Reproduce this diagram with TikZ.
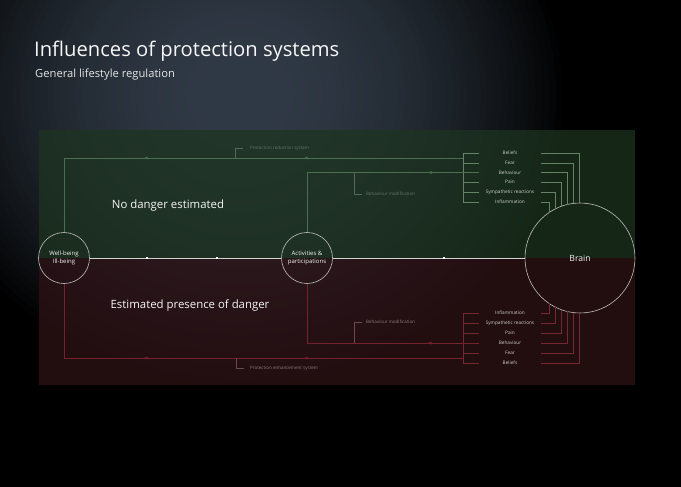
\documentclass[tikz,border=0pt]{standalone}
\usepackage{fontspec}
\setmainfont{Open Sans}
\definecolor{glowc}{RGB}{48,58,70}
\definecolor{gbase}{RGB}{29,52,32}
\definecolor{rbase}{RGB}{46,18,21}
\definecolor{gline}{RGB}{72,112,78}
\definecolor{rline}{RGB}{118,34,46}
\definecolor{gtick}{RGB}{100,130,102}
\definecolor{rtick}{RGB}{118,40,50}
\definecolor{glab}{RGB}{85,105,88}
\definecolor{rlab}{RGB}{110,70,76}
\definecolor{circc}{RGB}{190,190,185}
\definecolor{labg}{RGB}{100,118,103}
\definecolor{labr}{RGB}{140,124,126}
\definecolor{itemc}{RGB}{205,208,205}
\begin{document}
\begin{tikzpicture}[x=1pt,y=-1pt,
  circ/.style={circle,draw=circc,line width=0.6pt,inner sep=0pt,text=white!90!gray,align=center},
  item/.style={text=itemc,font=\fontsize{4.7}{5}\selectfont,inner sep=0pt},
  lab/.style={font=\fontsize{4.5}{5}\selectfont,inner sep=0pt,anchor=west},
  gl/.style={draw=gline,line width=0.6pt},
  rl/.style={draw=rline,line width=0.6pt},
  gt/.style={draw=gtick,line width=0.5pt},
  rt/.style={draw=rtick,line width=0.5pt},
  glt/.style={draw=glab,line width=0.5pt},
  rlt/.style={draw=rlab,line width=0.5pt},
  ltri/.pic={\fill (-2,0) -- (1.6,-1.5) -- (1.6,1.5) -- cycle;}]
\useasboundingbox (0,0) rectangle (681,487);
\fill[black] (0,0) rectangle (681,487);
\begin{scope}
\clip (0,0) rectangle (681,487);
\foreach \i in {1,...,48}{
  \pgfmathsetmacro\r{1-(\i-1)/48}
  \pgfmathtruncatemacro\p{100*(1-\r*\r)}
  \fill[glowc!\p!black] (240,95) ellipse [x radius={330*\r}, y radius={295*\r}];
}
\end{scope}
% title
\node[anchor=base west,inner sep=0pt,text=white!94!gray,font=\fontsize{20.2}{22}\selectfont] (title) at (34,57) {Influences of protection systems};
\node[anchor=base west,inner sep=0pt,text=white!80!gray,font=\fontsize{11.2}{12}\selectfont] (sub) at (35,78) {General lifestyle regulation};
% panels
\fill[gbase,opacity=0.75] (39,130) rectangle (635,258);
\fill[rbase,opacity=0.75] (39,258) rectangle (635,385);
% big texts
\node[text=white!92!gray,font=\fontsize{11.4}{13}\selectfont,inner sep=0pt] (nodanger) at (168,206) {No danger estimated};
\node[text=white!92!gray,font=\fontsize{11.4}{13}\selectfont,inner sep=0pt] (danger) at (190,306) {Estimated presence of danger};
% circles
\node[circ,minimum size=51pt,font=\fontsize{6}{7.6}\selectfont] (wb) at (64,258) {Well-being\\Ill-being};
\node[circ,minimum size=51pt,font=\fontsize{6}{7.6}\selectfont] (act) at (307,258) {Activities \&\\participations};
\node[circ,minimum size=110pt,font=\fontsize{8.6}{10}\selectfont] (brain) at (580,258) {Brain};
% middle line
\draw[white!65!gray,line width=0.8pt] (wb.east) -- (act.west);
\draw[white!65!gray,line width=0.8pt] (act.east) -- (brain.west);
\foreach \x in {147,217,444} \fill[white] (\x-1,257) rectangle (\x+1,259);
% top list
\foreach \n/\t/\y/\vx in {1/Beliefs/153/579,2/Fear/163/573,3/Behaviour/172.5/567,4/Pain/182/561,5/Sympathetic reactions/192/555,6/Inflammation/202/549}{
  \node[item] (t\n) at (510,\y) {\t};
  \draw[gt] (463,\y) -- (479,\y);
  \draw[gt] (541,\y) -- (\vx,\y) -- (\vx,{258-sqrt(55*55-(\vx-580)*(\vx-580))});
}
\draw[gt] (463,153) -- (463,202);
% bottom list
\foreach \n/\t/\y/\vx in {1/Beliefs/363/579,2/Fear/353/573,3/Behaviour/343/567,4/Pain/333/561,5/Sympathetic reactions/323/555,6/Inflammation/313/549}{
  \node[item] (b\n) at (510,\y) {\t};
  \draw[rt] (463,\y) -- (479,\y);
  \draw[rt] (541,\y) -- (\vx,\y) -- (\vx,{258+sqrt(55*55-(\vx-580)*(\vx-580))});
}
\draw[rt] (463,313) -- (463,363);
% top loops
\draw[gl] (463,158) -- (64,158) -- (wb.north);
\draw[gl] (479,172.5) -- (307,172.5) -- (act.north);
\pic[fill=gline] at (146,158) {ltri};
\pic[fill=gline] at (306,158) {ltri};
\pic[fill=gline] at (430,172.5) {ltri};
\draw[glt] (235.5,158) -- (235.5,148) -- (243,148);
\node[lab,text=labg] (prs) at (250,148) {Protection reduction system};
\draw[glt] (354,172.5) -- (354,194) -- (362,194);
\node[lab,text=labg] (bmt) at (366,194) {Behaviour modification};
% bottom loops
\draw[rl] (463,358) -- (64,358) -- (wb.south);
\draw[rl] (479,343) -- (307,343) -- (act.south);
\pic[fill=rline] at (146,358) {ltri};
\pic[fill=rline] at (306,358) {ltri};
\pic[fill=rline] at (430,343) {ltri};
\draw[rlt] (236,358) -- (236,368) -- (244,368);
\node[lab,text=labr] (pes) at (250,368) {Protection enhancement system};
\draw[rlt] (354,343) -- (354,322) -- (362,322);
\node[lab,text=labr] (bmb) at (366,322) {Behaviour modification};
\end{tikzpicture}
\end{document}
